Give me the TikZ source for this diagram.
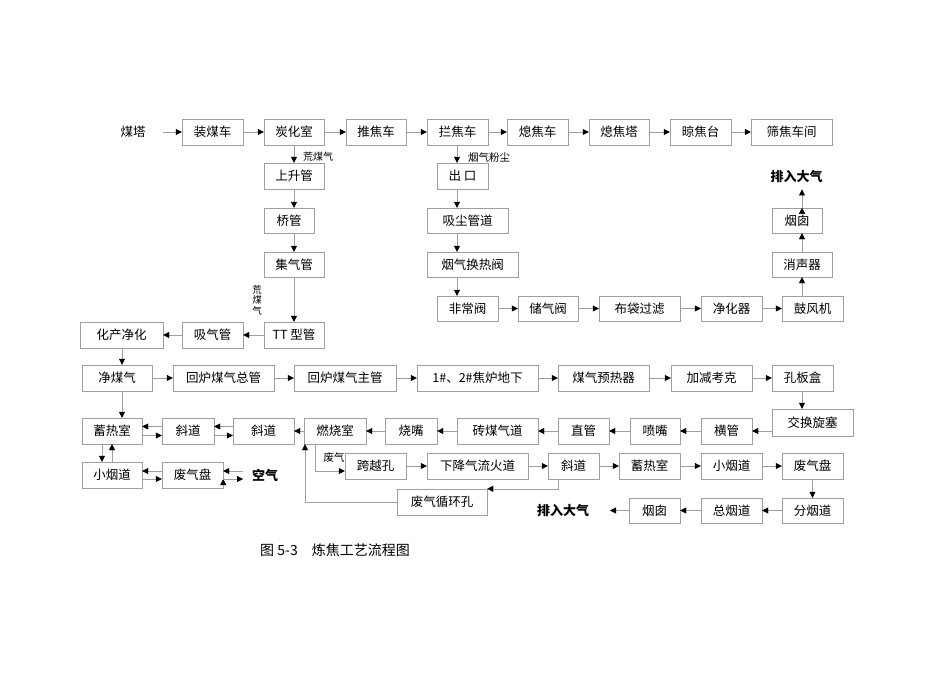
\documentclass[tikz,border=0pt]{standalone}
\usepackage{fontspec}
\setmainfont{Noto Sans CJK SC}
\usetikzlibrary{arrows.meta,positioning}
\tikzset{
  box/.style={draw=gray!75, minimum height=26pt, inner sep=0pt, font=\fontsize{12.5}{14}\selectfont},
  plain/.style={inner sep=0pt, font=\fontsize{12.5}{14}\selectfont},
  note/.style={inner sep=0pt, font=\fontsize{10}{11}\selectfont},
  big/.style={inner sep=0pt, font=\bfseries\fontsize{13}{15}\selectfont},
  arr/.style={draw=gray!75, -{Triangle[length=6pt,width=6pt,black]}}
}

\begin{document}
\begin{tikzpicture}[x=1pt,y=-1pt]
\useasboundingbox (0,0) rectangle (950,672);
% columns
\coordinate (colA) at (294,0);
\coordinate (colB) at (457,0);
\coordinate (colC) at (802,0);
\coordinate (colD) at (122,0);

% row 1
\node[plain, minimum width=60pt] (meita) at (133,132) {煤塔};
\node[box, minimum width=61pt] (zhuangmei) at (212.5,132) {装煤车};
\node[box, minimum width=60pt] (tanhua) at (294,132) {炭化室};
\node[box, minimum width=60pt] (tuijiao) at (376,132) {推焦车};
\node[box, minimum width=61pt] (lanjiao) at (457.5,132) {拦焦车};
\node[box, minimum width=61pt] (xjche) at (537.5,132) {熄焦车};
\node[box, minimum width=60pt] (xjta) at (619,132) {熄焦塔};
\node[box, minimum width=61pt] (liangjiao) at (700.5,132) {晾焦台};
\node[box, minimum width=81pt] (shaijiao) at (791.5,132) {筛焦车间};

% raw gas column
\node[note] (huangA) at (318,157) {荒煤气};
\node[box, minimum width=60pt] (shangsheng) at (294,176) {上升管};
\node[box, minimum width=50pt, minimum height=25pt] (qiaoguan) at (289,220.5) {桥管};
\node[box, minimum width=60pt, minimum height=25pt] (jiqi) at (294,264.5) {集气管};
\node[note, align=center, font=\fontsize{9.5}{10.5}\selectfont] (huangB) at (257,300) {荒\\煤\\气};
\node[box, minimum width=60pt] (TT) at (294,335) {TT 型管};
\node[box, minimum width=61pt] (xiqi) at (212.5,335) {吸气管};
\node[box, minimum width=83pt] (huachan) at (121.5,335) {化产净化};

% dust column
\node[note, font=\fontsize{10.5}{12}\selectfont] (fenchen) at (489,158) {烟气粉尘};
\node[box, minimum width=51pt] (chukou) at (462.5,176) {出 口};
\node[box, minimum width=81pt, minimum height=25pt] (xichen) at (467.5,220.5) {吸尘管道};
\node[box, minimum width=91pt, minimum height=25pt] (yanhuan) at (472.5,264.5) {烟气换热阀};
\node[box, minimum width=61pt, minimum height=25pt] (feichang) at (467.5,308.5) {非常阀};
\node[box, minimum width=60pt, minimum height=25pt] (chuqi) at (548,308.5) {储气阀};
\node[box, minimum width=81pt, minimum height=25pt] (budai) at (639.5,308.5) {布袋过滤};
\node[box, minimum width=61pt, minimum height=25pt] (jinghua) at (731.5,308.5) {净化器};
\node[box, minimum width=61pt, minimum height=25pt] (gufeng) at (812.5,308.5) {鼓风机};
\node[box, minimum width=60pt, minimum height=25pt] (xiaosheng) at (802,264.5) {消声器};
\node[box, minimum width=50pt, minimum height=25pt] (yancongA) at (797,220.5) {烟囱};
\node[big] (paiA) at (796.5,177) {排入大气};

% row 4
\node[box, minimum width=70pt] (jingmei) at (117,378) {净煤气};
\node[box, minimum width=101pt] (huizong) at (223.5,378) {回炉煤气总管};
\node[box, minimum width=102pt] (huizhu) at (345,378) {回炉煤气主管};
\node[box, minimum width=121pt] (dixia) at (477.5,378) {1\#、2\#焦炉地下};
\node[box, minimum width=91pt] (yure) at (603.5,378) {煤气预热器};
\node[box, minimum width=81pt] (jiajian) at (711.5,378) {加减考克};
\node[box, minimum width=61pt] (kongban) at (802.5,378) {孔板盒};
\node[box, minimum width=81pt, minimum height=27pt] (jiaohuan) at (812.5,422.5) {交换旋塞};

% row 5
\node[box, minimum width=51pt] (hengguan) at (726.5,431) {横管};
\node[box, minimum width=50pt] (penzui) at (655,431) {喷嘴};
\node[box, minimum width=51pt] (zhiguan) at (583.5,431) {直管};
\node[box, minimum width=81pt] (zhuanmei) at (497.5,431) {砖煤气道};
\node[box, minimum width=52pt] (shaozui) at (411,431) {烧嘴};
\node[box, minimum width=62pt] (ranshao) at (335,431) {燃烧室};
\node[box, minimum width=61pt] (xiedaoB) at (263.5,431) {斜道};
\node[box, minimum width=52pt] (xiedaoA) at (188,431) {斜道};
\node[box, minimum width=60pt] (xureA) at (112,431) {蓄热室};

% row 6 left
\node[box, minimum width=60pt] (xiaoyanA) at (112,475) {小烟道};
\node[box, minimum width=61pt] (feiqiA) at (192.5,475) {废气盘};
\node[big] (kongqi) at (265,475) {空气};
\coordinate (kq) at (243,475);

% waste gas rows
\node[note, font=\fontsize{10.5}{12}\selectfont] (feiqi) at (334,458) {废气};
\node[box, minimum width=61pt] (kuayue) at (375.5,466) {跨越孔};
\node[box, minimum width=101pt] (xiajiang) at (477.5,466) {下降气流火道};
\node[box, minimum width=51pt] (xiedaoC) at (573.5,466) {斜道};
\node[box, minimum width=61pt] (xureB) at (649.5,466) {蓄热室};
\node[box, minimum width=61pt] (xiaoyanB) at (731.5,466) {小烟道};
\node[box, minimum width=61pt] (feiqiB) at (812.5,466) {废气盘};
\node[box, minimum width=61pt, minimum height=25pt] (fenyan) at (812.5,510.5) {分烟道};
\node[box, minimum width=61pt, minimum height=25pt] (zongyan) at (731.5,510.5) {总烟道};
\node[box, minimum width=51pt, minimum height=25pt] (yancongB) at (654.5,510.5) {烟囱};
\node[big] (paiB) at (563,511) {排入大气};
\coordinate (pq) at (610,510.5);
\node[box, minimum width=90pt] (xunhuan) at (442,502) {废气循环孔};

\node[plain, font=\fontsize{14}{16}\selectfont] (caption) at (335,550) {图 5-3\quad 炼焦工艺流程图};

\path[arr]
 (meita) edge (zhuangmei)
 (zhuangmei) edge (tanhua)
 (tanhua) edge (tuijiao)
 (tuijiao) edge (lanjiao)
 (lanjiao) edge (xjche)
 (xjche) edge (xjta)
 (xjta) edge (liangjiao)
 (liangjiao) edge (shaijiao)
 (tanhua) edge (shangsheng)
 (colA |- shangsheng.south) edge (colA |- qiaoguan.north)
 (colA |- qiaoguan.south) edge (colA |- jiqi.north)
 (jiqi) edge (TT)
 (TT) edge (xiqi)
 (xiqi) edge (huachan)
 (colD |- huachan.south) edge (colD |- jingmei.north)
 (colD |- jingmei.south) edge (colD |- xureA.north)
 (colB |- lanjiao.south) edge (colB |- chukou.north)
 (colB |- chukou.south) edge (colB |- xichen.north)
 (colB |- xichen.south) edge (colB |- yanhuan.north)
 (colB |- yanhuan.south) edge (colB |- feichang.north)
 (feichang) edge (chuqi)
 (chuqi) edge (budai)
 (budai) edge (jinghua)
 (jinghua) edge (gufeng)
 (colC |- gufeng.north) edge (colC |- xiaosheng.south)
 (colC |- xiaosheng.north) edge (colC |- yancongA.south)
 (colC |- yancongA.north) edge ([yshift=-6pt]colC |- paiA.south);

\path[arr]
 (jingmei) edge (huizong)
 (huizong) edge (huizhu)
 (huizhu) edge (dixia)
 (dixia) edge (yure)
 (yure) edge (jiajian)
 (jiajian) edge (kongban)
 (colC |- kongban.south) edge (colC |- jiaohuan.north)
 (jiaohuan.west |- hengguan.east) edge (hengguan.east)
 (hengguan) edge (penzui)
 (penzui) edge (zhiguan)
 (zhiguan) edge (zhuanmei)
 (zhuanmei) edge (shaozui)
 (shaozui) edge (ranshao)
 (ranshao) edge (xiedaoB)
 ([yshift=4.5pt]xiedaoB.west) edge ([yshift=4.5pt]xiedaoA.east)
 ([yshift=-4.5pt]xiedaoA.east) edge ([yshift=-4.5pt]xiedaoB.west)
 ([yshift=4.5pt]xiedaoA.west) edge ([yshift=4.5pt]xureA.east)
 ([yshift=-4.5pt]xureA.east) edge ([yshift=-4.5pt]xiedaoA.west)
 ([xshift=-10pt]xureA.south) edge ([xshift=-10pt]xiaoyanA.north)
 (xiaoyanA.north) edge (xureA.south)
 ([yshift=4pt]feiqiA.west) edge ([yshift=4pt]xiaoyanA.east)
 ([yshift=-4pt]xiaoyanA.east) edge ([yshift=-4pt]feiqiA.west)
 ([yshift=4pt]kq) edge ([yshift=4pt]feiqiA.east)
 ([yshift=-4pt]feiqiA.east) edge ([yshift=-4pt]kq);

\path[arr]
 (kuayue) edge (xiajiang)
 (xiajiang) edge (xiedaoC)
 (xiedaoC) edge (xureB)
 (xureB) edge (xiaoyanB)
 (xiaoyanB) edge (feiqiB)
 (feiqiB) edge (fenyan)
 (fenyan) edge (zongyan)
 (zongyan) edge (yancongB)
 (yancongB) edge (pq);

\draw[arr] ([xshift=-20pt]ranshao.south) |- ([yshift=-5pt]kuayue.west);
\draw[arr] ([xshift=-15pt]xiedaoC.south) |- (xunhuan.north east);
\draw[arr] (xunhuan.west) -| ([xshift=-30pt]ranshao.south);
\end{tikzpicture}
\end{document}
